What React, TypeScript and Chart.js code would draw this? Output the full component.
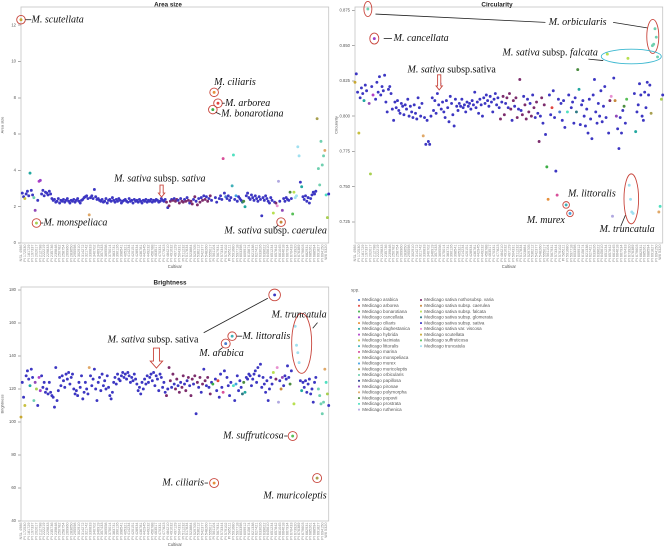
import React, { useEffect, useRef } from 'react';
import { Chart, registerables } from 'chart.js';
Chart.register(...registerables);

// ---------------- data ----------------
const speciesNames = [
  'Medicago arabica', 'Medicago arborea', 'Medicago bonarotiana', 'Medicago cancellata', 'Medicago ciliaris',
  'Medicago daghestanica', 'Medicago hybrida', 'Medicago laciniata', 'Medicago littoralis', 'Medicago marina',
  'Medicago monspeliaca', 'Medicago murex', 'Medicago muricoleptis', 'Medicago orbicularis', 'Medicago papillosa',
  'Medicago pironae', 'Medicago polymorpha', 'Medicago popovii', 'Medicago prostrata', 'Medicago ruthenica',
  'Medicago sativa nothosubsp. varia', 'Medicago sativa subsp. caerulea', 'Medicago sativa subsp. falcata',
  'Medicago sativa subsp. glomerata', 'Medicago sativa subsp. sativa', 'Medicago sativa var. viscosa',
  'Medicago scutellata', 'Medicago suffruticosa', 'Medicago truncatula',
];
const speciesColors = [
  '#4a7bd0', '#e0453f', '#3dae46', '#9a3fc8', '#e6903c',
  '#22a8a0', '#b040c8', '#c8c040', '#40b0b8', '#d8509a',
  '#a8d050', '#40a0e0', '#a8a050', '#70d0b0', '#283c8c',
  '#9048b8', '#e0a868', '#4c8c40', '#50e0c0', '#b0a8e0',
  '#7c2c6c', '#c8883c', '#b8e050', '#2c7884', '#3c36c2', '#e890d0',
  '#c8a832', '#58c058', '#a0e0f0',
];

const firstCultivar = ['NSL 4986'];
const cultivarPI = [
  170438, 171822, 172530, 177389, 179370, 181729, 185733, 190081, 197337, 198146,
  199255, 202017, 206452, 209660, 212798, 214224, 217560, 222219, 226583, 227079,
  229833, 231733, 234815, 235736, 236485, 237545, 239848, 243225, 245588, 250782,
  251405, 253444, 258754, 262532, 263154, 269960, 273447, 280134, 283650, 284215,
  287605, 295598, 296393, 299048, 302910, 307384, 311488, 314272, 315470, 318701,
  321742, 325385, 326811, 330833, 331366, 339671, 340702, 343702, 345578, 346919,
  350396, 355013, 357433, 360042, 366204, 369558, 370456, 372445, 375014, 379512,
  381245, 383731, 384503, 387132, 390126, 393278, 395821, 398541, 400010, 402432,
  405321, 408856, 411054, 414234, 416129, 418770, 420151, 422422, 425786, 428934,
  430117, 434301, 436781, 439201, 440501, 442945, 445605, 447301, 449232, 451147,
  454376, 456788, 459182, 461024, 463517, 466223, 468601, 470331, 472859, 475180,
  477823, 479562, 481834, 484210, 486678, 488925, 491032, 493386, 495743, 497129,
  499673, 502149, 504331, 506772, 509018, 511232, 513690, 515011, 517834, 519765,
  521303, 523884, 525467, 527311, 529705, 531962, 534718, 536212, 538587, 540832,
  542377, 544519, 546703, 548260, 550412, 552978, 555017, 557294, 559801, 561104,
  563477, 565688, 567931, 569201, 571509, 573344, 575286, 577530, 579102, 581473,
  583602, 585111, 587413, 589235, 591680, 593105, 595432, 597718, 599123, 601245,
  603398, 605562, 607801, 609912, 611376, 613520, 615874, 617032, 619211, 621338,
  623687, 625809, 627421, 629550, 631847, 633026, 635219, 637401, 639622, 641155,
  643378, 645610, 647893, 649012, 651234, 653509, 655721, 657842, 659112, 660378,
  661045, 662210, 663504, 664618, 665703, 666820, 667934, 668102, 669287, 670433,
  671560, 672812, 673920, 674105, 675236, 676389, 677451, 678512, 679603, 680714,
  681822, 682931, 683045, 684150, 685261, 686372, 687483, 688594, 689605, 690716,
  691827, 692938, 693049, 694150, 695261,
];
const lastCultivars = ['W6 4287', 'W6 5320', 'W6 6054', 'W6 7731'];

// species index of every cultivar (into speciesNames)
const cultivarSpecies = [
  26, 24, 24, 7, 24, 24, 24, 5, 24, 24, 13, 15, 10, 24, 6, 3, 24, 24, 24, 24,
  24, 24, 24, 24, 24, 24, 24, 24, 24, 24, 24, 24, 24, 24, 24, 24, 24, 24, 24, 24,
  24, 24, 24, 24, 24, 24, 24, 24, 24, 24, 24, 24, 24, 16, 24, 24, 24, 24, 24, 24,
  24, 24, 24, 24, 24, 24, 24, 24, 24, 24, 24, 24, 24, 24, 24, 24, 24, 24, 24, 24,
  24, 24, 24, 24, 24, 24, 24, 24, 24, 24, 24, 24, 24, 24, 24, 24, 24, 24, 24, 24,
  24, 24, 24, 24, 24, 24, 24, 24, 24, 24, 24, 24, 24, 20, 24, 20, 20, 24, 20, 24,
  20, 20, 24, 20, 24, 20, 20, 24, 20, 24, 20, 24, 20, 20, 24, 20, 24, 20, 24, 20,
  24, 20, 24, 20, 24, 20, 24, 20, 24, 2, 4, 24, 24, 1, 24, 24, 24, 9, 24, 0,
  24, 24, 24, 24, 8, 18, 24, 11, 24, 24, 24, 24, 23, 17, 5, 24, 24, 24, 24, 24,
  24, 24, 24, 24, 24, 24, 24, 24, 24, 24, 24, 24, 24, 24, 24, 24, 22, 24, 20, 25,
  19, 24, 21, 15, 24, 24, 24, 24, 24, 17, 24, 27, 22, 28, 28, 28, 28, 24, 5, 24,
  24, 24, 24, 24, 24, 24, 24, 24, 24, 24, 12, 13, 13, 13, 13, 13, 16, 18, 10, 24,
];

const areaSize = [
  12.3, 2.75, 2.55, 2.45, 2.7, 2.85, 2.6, 3.85, 2.9, 2.65, 2.5, 1.8, 1.1, 2.35, 3.4, 3.45, 2.7, 2.9, 2.6, 2.8,
  2.75, 2.65, 2.85, 2.7, 2.45, 2.35, 2.4, 2.25, 2.3, 2.45, 2.2, 2.35, 2.3, 2.4, 2.25, 2.35, 2.45, 2.3, 2.2, 2.35,
  2.3, 2.4, 2.25, 2.35, 2.45, 2.3, 2.2, 2.35, 2.4, 2.5, 2.55, 2.6, 2.45, 1.55, 2.5, 2.6, 2.45, 2.95, 2.55, 2.4,
  2.45, 2.35, 2.3, 2.4, 2.25, 2.3, 2.45, 2.2, 2.35, 2.4, 2.3, 2.5, 2.35, 2.25, 2.4, 2.3, 2.45, 2.35, 2.2, 2.3,
  2.35, 2.4, 2.3, 2.25, 2.45, 2.3, 2.35, 2.2, 2.4, 2.3, 2.35, 2.25, 2.4, 2.3, 2.2, 2.35, 2.3, 2.4, 2.25, 2.35,
  2.3, 2.4, 2.25, 2.35, 2.3, 2.4, 2.35, 2.25, 2.3, 2.45, 2.35, 2.3, 2.4, 2.25, 1.95, 2.05, 2.3, 2.4, 2.35, 2.45,
  2.3, 2.4, 2.35, 2.2, 2.45, 2.3, 2.25, 2.4, 2.3, 2.5, 2.35, 2.2, 2.3, 2.15, 2.4, 2.55, 2.3, 2.1, 2.45, 2.25,
  2.5, 2.35, 2.6, 2.4, 2.55, 2.3, 2.45, 2.6, 2.35, 7.35, 8.3, 2.5, 2.25, 7.7, 2.45, 2.6, 2.4, 4.65, 2.75, 2.55,
  2.45, 2.6, 2.35, 2.5, 3.15, 4.85, 2.4, 2.6, 2.3, 2.55, 2.45, 2.35, 2.25, 2.3, 2.0, 2.6, 2.75, 2.5, 2.4, 2.65,
  2.5, 2.35, 2.6, 2.45, 2.3, 2.55, 2.4, 1.5, 2.5, 2.35, 2.6, 2.45, 2.3, 2.2, 2.5, 2.35, 1.65, 2.25, 2.2, 2.05,
  3.4, 2.3, 1.15, 1.8, 2.45, 2.3, 2.5, 2.4, 2.35, 2.8, 2.45, 1.6, 2.8, 2.5, 2.6, 5.3, 4.8, 3.35, 3.1, 2.55,
  2.4, 2.6, 2.3, 2.5, 2.2, 2.45, 2.65, 2.8, 2.7, 2.85, 6.85, 4.1, 3.2, 5.6, 4.3, 4.8, 5.1, 2.65, 1.4, 2.7,
];

const circularity = [
  0.824, 0.830, 0.817, 0.788, 0.813, 0.820, 0.816, 0.811, 0.822, 0.818, 0.876, 0.809, 0.759, 0.821, 0.815, 0.855, 0.812, 0.824, 0.817, 0.828,
  0.815, 0.821, 0.818, 0.829, 0.810, 0.803, 0.819, 0.821, 0.816, 0.805, 0.797, 0.810, 0.806, 0.811, 0.804, 0.802, 0.809, 0.807, 0.801, 0.808,
  0.805, 0.812, 0.800, 0.807, 0.803, 0.799, 0.808, 0.802, 0.798, 0.813, 0.806, 0.800, 0.809, 0.786, 0.799, 0.780, 0.797, 0.782, 0.780, 0.800,
  0.813, 0.804, 0.811, 0.802, 0.816, 0.808, 0.823, 0.805, 0.810, 0.803, 0.799, 0.811, 0.806, 0.796, 0.814, 0.809, 0.801, 0.793, 0.812, 0.807,
  0.804, 0.809, 0.807, 0.812, 0.806, 0.808, 0.803, 0.810, 0.807, 0.809, 0.805, 0.811, 0.808, 0.817, 0.806, 0.810, 0.802, 0.812, 0.808, 0.800,
  0.813, 0.809, 0.815, 0.811, 0.807, 0.814, 0.810, 0.803, 0.812, 0.816, 0.808, 0.813, 0.806, 0.798, 0.810, 0.814, 0.801, 0.809, 0.813, 0.806,
  0.816, 0.805, 0.797, 0.811, 0.807, 0.813, 0.799, 0.805, 0.826, 0.804, 0.801, 0.814, 0.808, 0.798, 0.812, 0.803, 0.809, 0.800, 0.815, 0.806,
  0.799, 0.810, 0.802, 0.782, 0.800, 0.813, 0.795, 0.808, 0.787, 0.764, 0.741, 0.815, 0.801, 0.806, 0.818, 0.799, 0.761, 0.744, 0.812, 0.803,
  0.809, 0.797, 0.811, 0.792, 0.737, 0.803, 0.815, 0.731, 0.806, 0.810, 0.795, 0.813, 0.803, 0.833, 0.819, 0.794, 0.808, 0.811, 0.800, 0.793,
  0.805, 0.788, 0.812, 0.798, 0.784, 0.815, 0.826, 0.803, 0.795, 0.809, 0.800, 0.818, 0.796, 0.807, 0.821, 0.799, 0.844, 0.788, 0.811, 0.814,
  0.729, 0.827, 0.811, 0.800, 0.791, 0.777, 0.799, 0.788, 0.804, 0.807, 0.795, 0.812, 0.841, 0.751, 0.741, 0.732, 0.731, 0.816, 0.789, 0.803,
  0.808, 0.823, 0.815, 0.800, 0.797, 0.817, 0.806, 0.824, 0.815, 0.822, 0.802, 0.850, 0.851, 0.862, 0.856, 0.842, 0.732, 0.736, 0.812, 0.815,
];

const brightness = [
  103, 124, 115, 110, 128, 131, 126, 122, 132, 127, 113, 124, 120, 110, 127, 119, 128, 121, 124, 118,
  120, 117, 124, 118, 116, 115, 109, 133, 113, 119, 127, 122, 128, 125, 121, 129, 126, 130, 123, 127,
  129, 120, 117, 119, 116, 124, 121, 128, 114, 118, 124, 120, 117, 133, 128, 122, 126, 132, 120, 113,
  124, 127, 119, 129, 122, 125, 120, 128, 121, 116, 114, 118, 124, 127, 123, 129, 126, 125, 128, 130,
  127, 129, 126, 130, 128, 124, 127, 125, 129, 126, 123, 119, 121, 117, 124, 120, 126, 123, 128, 124,
  127, 129, 125, 130, 122, 128, 126, 119, 129, 127, 121, 124, 118, 116, 120, 133, 125, 121, 129, 123,
  120, 126, 122, 118, 124, 121, 128, 123, 119, 125, 127, 122, 116, 126, 123, 128, 105, 124, 121, 127,
  118, 123, 132, 125, 122, 127, 121, 117, 124, 123, 63, 126, 119, 125, 115, 129, 121, 118, 131, 147.5,
  127, 122, 116, 124, 152, 122, 113, 123, 128, 119, 125, 121, 117, 124, 118, 127, 126, 129, 128, 122,
  126, 129, 131, 124, 133, 128, 135, 121, 127, 123, 118, 125, 113, 120, 127, 123, 130, 177, 126, 133,
  112, 125, 120, 127, 122, 128, 126, 134, 127, 123, 131, 91.5, 111, 158, 146.5, 142, 136, 125, 119, 124,
  121, 125, 118, 123, 126, 117, 120, 112, 124, 127, 66, 120, 116, 111, 105, 112, 132, 124, 117, 110,
];

const areaTicks = [0, 2, 4, 6, 8, 10, 12];
const circularityTicks = [0.725, 0.75, 0.775, 0.8, 0.825, 0.85, 0.875];
const brightnessTicks = [40, 60, 80, 100, 120, 140, 160, 180];

const cultivars = [...firstCultivar, ...cultivarPI.map((n) => 'PI ' + n), ...lastCultivars];
const LABEL_EVERY = 3; // the axis prints every third cultivar name

// ---------------- annotations (data coordinates: x = cultivar index) ----------------
const it = (t: string) => ({ t, i: true });
const up = (t: string) => ({ t, i: false });
const CYAN = '#3cb8d0';

const areaNotes: any[] = [
  { k: 'ell', x: 0, y: 12.3, rx: 4.3, ry: 4.3 },
  { k: 'line', x1: 3.3, y1: 12.3, x2: 8, y2: 12.3 },
  { k: 'text', x: 8.2, y: 12.3, parts: [it('M. scutellata')] },
  { k: 'ell', x: 12, y: 1.1, rx: 4.3, ry: 4.3 },
  { k: 'line', x1: 15.3, y1: 1.1, x2: 17.3, y2: 1.1 },
  { k: 'text', x: 17.5, y: 1.1, parts: [it('M. monspeliaca')] },
  { k: 'text', x: 150, y: 8.86, parts: [it('M. ciliaris')] },
  { k: 'ell', x: 150, y: 8.3, rx: 4.3, ry: 4.3 },
  { k: 'line', x1: 153.1, y1: 8.46, x2: 155.2, y2: 8.64 },
  { k: 'ell', x: 153, y: 7.7, rx: 4.3, ry: 4.3 },
  { k: 'line', x1: 156.3, y1: 7.7, x2: 158.3, y2: 7.7 },
  { k: 'text', x: 158.5, y: 7.7, parts: [it('M. arborea')] },
  { k: 'ell', x: 149, y: 7.35, rx: 4.3, ry: 4.3 },
  { k: 'line', x1: 151.2, y1: 7.2, x2: 155, y2: 7.08 },
  { k: 'text', x: 155.4, y: 7.12, parts: [it('M. bonarotiana')] },
  { k: 'text', x: 72.3, y: 3.52, parts: [it('M. sativa'), up(' subsp. '), it('sativa')] },
  { k: 'arrow', x: 109.2, y1: 3.19, y2: 2.53, sw: 1.6, hw: 3.2, hl: 4 },
  { k: 'ell', x: 202, y: 1.15, rx: 4.3, ry: 4.3 },
  { k: 'line', x1: 199.5, y1: 0.97, x2: 197.2, y2: 0.84 },
  { k: 'text', x: 237.6, y: 0.66, align: 'right', parts: [it('M. sativa'), up(' subsp. '), it('caerulea')] },
];

const circNotes: any[] = [
  { k: 'ell', x: 10, y: 0.876, rx: 4, ry: 7.5 },
  { k: 'line', x1: 15.9, y1: 0.8724, x2: 147.9, y2: 0.8665 },
  { k: 'text', x: 150.5, y: 0.8665, parts: [it('M. orbicularis')] },
  { k: 'line', x1: 200.5, y1: 0.8665, x2: 227.5, y2: 0.8625 },
  { k: 'ell', x: 231.3, y: 0.8565, rx: 6, ry: 17 },
  { k: 'ell', x: 15, y: 0.855, rx: 4.5, ry: 5.5 },
  { k: 'line', x1: 22.3, y1: 0.855, x2: 28.7, y2: 0.855 },
  { k: 'text', x: 30, y: 0.855, parts: [it('M. cancellata')] },
  { k: 'ell', x: 214.6, y: 0.8423, rx: 30, ry: 7.3, c: CYAN },
  { k: 'text', x: 114.6, y: 0.8447, parts: [it('M. sativa'), up(' subsp. '), it('falcata')] },
  { k: 'line', x1: 181.3, y1: 0.8404, x2: 192.8, y2: 0.8394 },
  { k: 'text', x: 40.8, y: 0.8328, parts: [it('M. sativa'), up(' subsp.sativa')] },
  { k: 'arrow', x: 65.4, y1: 0.8293, y2: 0.8186, sw: 1.6, hw: 3.2, hl: 4 },
  { k: 'ell', x: 164, y: 0.737, rx: 3.3, ry: 3.3 },
  { k: 'text', x: 165.4, y: 0.7447, parts: [it('M. littoralis')] },
  { k: 'ell', x: 167, y: 0.731, rx: 3.3, ry: 3.3 },
  { k: 'text', x: 163, y: 0.7262, align: 'right', parts: [it('M. murex')] },
  { k: 'ell', x: 214.6, y: 0.7413, rx: 7.3, ry: 25 },
  { k: 'line', x1: 210, y1: 0.7297, x2: 206.4, y2: 0.7218 },
  { k: 'text', x: 190, y: 0.7196, parts: [it('M. truncatula')] },
];

const brightNotes: any[] = [
  { k: 'ell', x: 197, y: 177, rx: 5.8, ry: 5.8 },
  { k: 'line', x1: 191.7, y1: 175, x2: 141.9, y2: 154.1 },
  { k: 'text', x: 67.3, y: 149.7, parts: [it('M. sativa'), up(' subsp. sativa')] },
  { k: 'arrow', x: 105.2, y1: 144.8, y2: 132.7, sw: 3, hw: 6.2, hl: 7 },
  { k: 'ell', x: 164, y: 152, rx: 4.3, ry: 4.3 },
  { k: 'line', x1: 167.5, y1: 152, x2: 171.8, y2: 152 },
  { k: 'text', x: 172, y: 152, parts: [it('M. littoralis')] },
  { k: 'ell', x: 159, y: 147.5, rx: 4.5, ry: 4.5 },
  { k: 'line', x1: 156.5, y1: 145, x2: 153.5, y2: 143.2 },
  { k: 'text', x: 138.5, y: 141.6, parts: [it('M. arabica')] },
  { k: 'ell', x: 218, y: 147.7, rx: 10, ry: 30 },
  { k: 'line', x1: 226.6, y1: 156.8, x2: 230.3, y2: 160.2 },
  { k: 'text', x: 194.7, y: 164.8, parts: [it('M. truncatula')] },
  { k: 'ell', x: 211, y: 91.5, rx: 4.5, ry: 4.5 },
  { k: 'line', x1: 204.4, y1: 91.5, x2: 207, y2: 91.5 },
  { k: 'text', x: 204, y: 91.5, align: 'right', parts: [it('M. suffruticosa')] },
  { k: 'ell', x: 150, y: 63, rx: 4.5, ry: 4.5 },
  { k: 'line', x1: 142.6, y1: 63, x2: 145.3, y2: 63 },
  { k: 'text', x: 142.2, y: 63, align: 'right', parts: [it('M. ciliaris')] },
  { k: 'ell', x: 230, y: 66, rx: 4.5, ry: 4.5 },
  { k: 'text', x: 237.4, y: 55.3, align: 'right', parts: [it('M. muricoleptis')] },
];

// ---------------- drawing helpers ----------------
const SANS = '"Liberation Sans", Arial, sans-serif';
const SERIF = '"Liberation Serif", "Times New Roman", serif';
const RED = '#c8453c';

function drawLegend(ctx: CanvasRenderingContext2D) {
  ctx.save();
  ctx.font = `4.5px ${SANS}`;
  ctx.textAlign = 'left';
  ctx.textBaseline = 'middle';
  ctx.fillStyle = '#666';
  ctx.fillText('spp.', 17, 290.5);
  speciesNames.forEach((name, i) => {
    const col = i < 20 ? 0 : 1;
    const row = col === 0 ? i : i - 20;
    const mx = col === 0 ? 25 : 87;
    const y = 300 + row * 5.77;
    ctx.fillStyle = speciesColors[i];
    ctx.fillRect(mx - 0.9, y - 0.9, 1.8, 1.8);
    ctx.fillStyle = '#555';
    ctx.fillText(name, mx + 3.3, y);
  });
  ctx.restore();
}

function makeDecor(notes: any[], title: string, titleX: number, titleY: number, legend: boolean) {
  return {
    id: 'decor',
    beforeDatasetsDraw(chart: any) {
      const { ctx, chartArea: a } = chart;
      ctx.save();
      ctx.strokeStyle = '#c4c4c4';
      ctx.lineWidth = 0.8;
      ctx.strokeRect(a.left, a.top, a.right - a.left, a.bottom - a.top);
      ctx.restore();
    },
    afterDraw(chart: any) {
      const ctx: CanvasRenderingContext2D = chart.ctx;
      const xs = chart.scales.x;
      const ys = chart.scales.y;
      const X = (v: number) => xs.getPixelForValue(v);
      const Y = (v: number) => ys.getPixelForValue(v);
      ctx.save();
      ctx.font = `bold 6.3px ${SANS}`;
      ctx.fillStyle = '#222';
      ctx.textAlign = 'center';
      ctx.textBaseline = 'middle';
      ctx.fillText(title, titleX, titleY);
      for (const n of notes) {
        if (n.k === 'ell') {
          ctx.beginPath();
          ctx.ellipse(X(n.x), Y(n.y), n.rx, n.ry, 0, 0, Math.PI * 2);
          ctx.strokeStyle = n.c || RED;
          ctx.lineWidth = 0.9;
          ctx.stroke();
        } else if (n.k === 'line') {
          ctx.beginPath();
          ctx.moveTo(X(n.x1), Y(n.y1));
          ctx.lineTo(X(n.x2), Y(n.y2));
          ctx.strokeStyle = '#222';
          ctx.lineWidth = 0.8;
          ctx.stroke();
        } else if (n.k === 'text') {
          ctx.textAlign = 'left';
          ctx.textBaseline = 'middle';
          ctx.fillStyle = '#111';
          const fonts = n.parts.map((p: any) => `${p.i ? 'italic ' : ''}10px ${SERIF}`);
          const widths = n.parts.map((p: any, k: number) => {
            ctx.font = fonts[k];
            return ctx.measureText(p.t).width;
          });
          const total = widths.reduce((s: number, w: number) => s + w, 0);
          let cx = n.align === 'right' ? X(n.x) - total : X(n.x);
          const cy = Y(n.y);
          n.parts.forEach((p: any, k: number) => {
            ctx.font = fonts[k];
            ctx.fillText(p.t, cx, cy);
            cx += widths[k];
          });
        } else if (n.k === 'arrow') {
          const cx = X(n.x);
          const t = Y(n.y1);
          const b = Y(n.y2);
          ctx.beginPath();
          ctx.moveTo(cx - n.sw, t);
          ctx.lineTo(cx + n.sw, t);
          ctx.lineTo(cx + n.sw, b - n.hl);
          ctx.lineTo(cx + n.hw, b - n.hl);
          ctx.lineTo(cx, b);
          ctx.lineTo(cx - n.hw, b - n.hl);
          ctx.lineTo(cx - n.sw, b - n.hl);
          ctx.closePath();
          ctx.fillStyle = '#fff';
          ctx.fill();
          ctx.strokeStyle = RED;
          ctx.lineWidth = 0.9;
          ctx.stroke();
        }
      }
      if (legend) drawLegend(ctx);
      ctx.restore();
    },
  };
}

function makeConfig(p: any) {
  return {
    type: 'line',
    data: {
      labels: cultivars,
      datasets: [
        {
          data: p.values,
          showLine: false,
          pointRadius: 1.45,
          pointHoverRadius: 1.45,
          pointBorderWidth: 0,
          pointBorderColor: 'rgba(0,0,0,0)',
          pointBackgroundColor: cultivarSpecies.map((s) => speciesColors[s]),
          clip: false,
        },
      ],
    },
    options: {
      responsive: false,
      animation: false,
      devicePixelRatio: 2,
      events: [],
      layout: { padding: p.padding },
      plugins: { legend: { display: false }, tooltip: { enabled: false }, title: { display: false } },
      scales: {
        x: {
          type: 'category',
          offset: false,
          grid: { display: false, drawTicks: false },
          border: { display: false },
          ticks: {
            autoSkip: false,
            maxRotation: 90,
            minRotation: 90,
            padding: 1.5,
            color: '#888',
            font: { size: 3.8, family: SANS, lineHeight: 1 },
            callback: (_v: any, i: number) => (i % LABEL_EVERY === 0 ? cultivars[i] : ''),
          },
          title: {
            display: true,
            text: 'Cultivar',
            color: '#555',
            font: { size: 4.2, family: SANS },
            padding: { top: 0, bottom: p.xTitlePad },
          },
          afterFit: (s: any) => {
            s.height = 28;
          },
        },
        y: {
          type: 'linear',
          min: p.min,
          max: p.max,
          grid: { display: true, drawOnChartArea: false, drawTicks: true, tickLength: 3, color: '#aaa' },
          border: { display: false },
          afterBuildTicks: (s: any) => {
            s.ticks = p.ticks.map((v: number) => ({ value: v }));
          },
          ticks: {
            padding: 2,
            color: '#555',
            font: { size: 4.2, family: SANS },
            callback: (v: any) => p.fmt(v),
          },
          title: {
            display: true,
            text: p.yTitle,
            color: '#555',
            font: { size: 4, family: SANS },
            padding: { top: 0, bottom: 0 },
          },
          afterFit: (s: any) => {
            s.width = 21;
          },
        },
      },
    },
    plugins: [makeDecor(p.notes, p.title, p.titleX, p.titleY, p.legend)],
  };
}

const panels = [
  {
    key: 'area', left: 0, top: 0, width: 334, height: 271,
    values: areaSize, min: 0, max: 13, ticks: areaTicks, fmt: (v: number) => String(v),
    yTitle: 'Area size', title: 'Area size', titleX: 168, titleY: 4.7,
    padding: { top: 7, right: 2, bottom: 0, left: 0 }, xTitlePad: 1.5, notes: areaNotes, legend: false,
  },
  {
    key: 'circ', left: 334, top: 0, width: 334, height: 421,
    values: circularity, min: 0.71, max: 0.8774, ticks: circularityTicks, fmt: (v: number) => v.toFixed(3),
    yTitle: 'Circularity', title: 'Circularity', titleX: 163, titleY: 4.7,
    padding: { top: 7, right: 2, bottom: 150, left: 0 }, xTitlePad: 1.5, notes: circNotes, legend: true,
  },
  {
    key: 'bright', left: 0, top: 276, width: 334, height: 273,
    values: brightness, min: 40, max: 181.8, ticks: brightnessTicks, fmt: (v: number) => String(v),
    yTitle: 'Brightness', title: 'Brightness', titleX: 170, titleY: 6.7,
    padding: { top: 11, right: 4, bottom: 0, left: 0 }, xTitlePad: 1.5, notes: brightNotes, legend: false,
  },
];

function Panel({ spec }: { spec: any }) {
  const ref = useRef<HTMLCanvasElement | null>(null);
  useEffect(() => {
    if (!ref.current) return;
    const chart = new Chart(ref.current, makeConfig(spec) as any);
    return () => chart.destroy();
  }, [spec]);
  return (
    <canvas
      ref={ref}
      width={spec.width}
      height={spec.height}
      style={{ position: 'absolute', left: spec.left, top: spec.top, width: spec.width, height: spec.height }}
    />
  );
}

export default function App() {
  return (
    <div
      style={{
        position: 'absolute',
        left: 0,
        top: 0,
        width: 668,
        height: 549,
        background: '#fff',
        overflow: 'hidden',
      }}
    >
      {panels.map((p) => (
        <Panel key={p.key} spec={p} />
      ))}
    </div>
  );
}
